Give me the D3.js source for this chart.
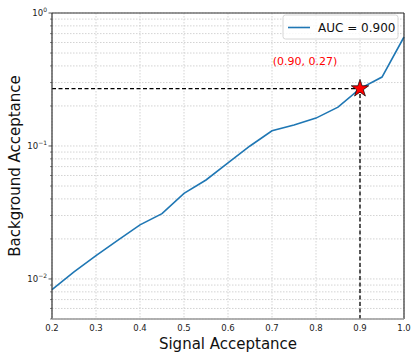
<!DOCTYPE html>
<html>
<head>
<meta charset="utf-8">
<script src="https://cdn.jsdelivr.net/npm/d3@7"></script>
<style>
  body { margin: 0; background: #fff; }
  svg { font-family: "DejaVu Sans", sans-serif; }
  .grid line { stroke: #c8c8c8; stroke-width: 0.8; stroke-dasharray: 1.5,1.5; }
</style>
</head>
<body>
<script>
//chart data
var signalAcc = [0.20, 0.25, 0.30, 0.35, 0.40, 0.45, 0.50, 0.55, 0.60, 0.65, 0.70, 0.75, 0.80, 0.85, 0.90, 0.95, 1.00];
var backgroundAcc = [0.0083, 0.0113, 0.015, 0.0196, 0.0255, 0.031, 0.044, 0.0555, 0.0745, 0.100, 0.130, 0.144, 0.162, 0.196, 0.27, 0.33, 0.66];
var xTicks = [0.2, 0.3, 0.4, 0.5, 0.6, 0.7, 0.8, 0.9, 1.0];
var yMajor = [1e-2, 1e-1, 1];
var yExp = ["\u22122", "\u22121", "0"];
var wp = {x: 0.90, y: 0.27};
var legendLabel = "AUC = 0.900";

(function(){
  var width = 420, height = 360;
  var left = 52, right = 404, top = 13, bottom = 319;

  var svg = d3.select("body").append("svg")
      .attr("width", width)
      .attr("height", height);

  var x = d3.scaleLinear().domain([0.2, 1.0]).range([left, right]);
  var y = d3.scaleLog().domain([0.005, 1]).range([bottom, top]);

  //minor log ticks 2..9 per decade
  var yMinor = [];
  [0.001, 0.01, 0.1].forEach(function(d){
      for (var k = 2; k <= 9; k++){
          var v = d * k;
          if (v >= 0.005 && v < 1) yMinor.push(v);
      }
  });

  //grid
  var grid = svg.append("g").attr("class", "grid");
  grid.selectAll(".gx").data(xTicks).enter().append("line")
      .attr("x1", function(d){ return x(d); }).attr("x2", function(d){ return x(d); })
      .attr("y1", top).attr("y2", bottom);
  grid.selectAll(".gy").data(yMajor.concat(yMinor)).enter().append("line")
      .attr("x1", left).attr("x2", right)
      .attr("y1", function(d){ return y(d); }).attr("y2", function(d){ return y(d); });

  //dashed guide lines
  svg.append("line")
      .attr("x1", left).attr("x2", x(wp.x))
      .attr("y1", y(wp.y)).attr("y2", y(wp.y))
      .attr("stroke", "#000").attr("stroke-width", 1.3).attr("stroke-dasharray", "4,2.5");
  svg.append("line")
      .attr("x1", x(wp.x)).attr("x2", x(wp.x))
      .attr("y1", bottom).attr("y2", y(wp.y))
      .attr("stroke", "#000").attr("stroke-width", 1.3).attr("stroke-dasharray", "4,2.5");

  //curve
  var line = d3.line()
      .x(function(d, i){ return x(signalAcc[i]); })
      .y(function(d){ return y(d); });
  svg.append("path")
      .datum(backgroundAcc)
      .attr("d", line)
      .attr("fill", "none")
      .attr("stroke", "#1f77b4")
      .attr("stroke-width", 1.6);

  //star marker
  svg.append("path")
      .attr("d", d3.symbol().type(d3.symbolStar).size(95)())
      .attr("transform", "translate(" + x(wp.x) + "," + y(wp.y) + ")")
      .attr("fill", "#ff0000")
      .attr("stroke", "#000")
      .attr("stroke-width", 0.7);

  svg.append("text")
      .attr("x", x(wp.x) - 55)
      .attr("y", y(wp.y) - 24)
      .attr("text-anchor", "middle")
      .attr("fill", "#ff0000")
      .attr("font-size", 11)
      .text("(" + wp.x.toFixed(2) + ", " + wp.y.toFixed(2) + ")");

  //y axis ticks
  var yAx = svg.append("g");
  yAx.selectAll(".tmaj").data(yMajor).enter().append("line")
      .attr("x1", left - 3.5).attr("x2", left)
      .attr("y1", function(d){ return y(d); }).attr("y2", function(d){ return y(d); })
      .attr("stroke", "#333").attr("stroke-width", 0.8);
  yAx.selectAll(".tmin").data(yMinor).enter().append("line")
      .attr("x1", left - 2).attr("x2", left)
      .attr("y1", function(d){ return y(d); }).attr("y2", function(d){ return y(d); })
      .attr("stroke", "#333").attr("stroke-width", 0.6);
  var yl = yAx.selectAll(".tl").data(yMajor).enter().append("text")
      .attr("x", left - 5)
      .attr("y", function(d){ return y(d) + 3; })
      .attr("text-anchor", "end")
      .attr("font-size", 8.5)
      .attr("fill", "#222");
  yl.append("tspan").text("10");
  yl.append("tspan")
      .attr("dy", -4)
      .attr("font-size", 6)
      .text(function(d, i){ return yExp[i]; });

  //x axis tick labels
  svg.selectAll(".xl").data(xTicks).enter().append("text")
      .attr("x", function(d){ return x(d); })
      .attr("y", bottom + 12)
      .attr("text-anchor", "middle")
      .attr("font-size", 8.5)
      .attr("fill", "#222")
      .text(function(d){ return d.toFixed(1); });

  //spines
  svg.append("line").attr("x1", left).attr("x2", right).attr("y1", top).attr("y2", top)
      .attr("stroke", "#333").attr("stroke-width", 1.2);
  svg.append("line").attr("x1", left).attr("x2", left).attr("y1", top).attr("y2", bottom)
      .attr("stroke", "#333").attr("stroke-width", 1.2);
  svg.append("line").attr("x1", right).attr("x2", right).attr("y1", top).attr("y2", bottom)
      .attr("stroke", "#333").attr("stroke-width", 1.2);
  svg.append("line").attr("x1", left).attr("x2", right).attr("y1", bottom).attr("y2", bottom)
      .attr("stroke", "#999").attr("stroke-width", 1.6);

  //axis labels
  svg.append("text")
      .attr("x", (left + right) / 2)
      .attr("y", 349)
      .attr("text-anchor", "middle")
      .attr("font-size", 15)
      .attr("fill", "#111")
      .text("Signal Acceptance");
  svg.append("text")
      .attr("transform", "translate(20," + ((top + bottom) / 2) + ") rotate(-90)")
      .attr("text-anchor", "middle")
      .attr("font-size", 15)
      .attr("fill", "#111")
      .text("Background Acceptance");

  //legend
  var lg = svg.append("g");
  lg.append("rect")
      .attr("x", 283).attr("y", 15)
      .attr("width", 115).attr("height", 24)
      .attr("rx", 2.5)
      .attr("fill", "#fff").attr("fill-opacity", 0.8)
      .attr("stroke", "#ccc").attr("stroke-width", 0.8);
  lg.append("line")
      .attr("x1", 288).attr("x2", 310)
      .attr("y1", 27.5).attr("y2", 27.5)
      .attr("stroke", "#1f77b4").attr("stroke-width", 1.6);
  lg.append("text")
      .attr("x", 318).attr("y", 32)
      .attr("font-size", 12)
      .attr("fill", "#111")
      .text(legendLabel);
})();
</script>
</body>
</html>
